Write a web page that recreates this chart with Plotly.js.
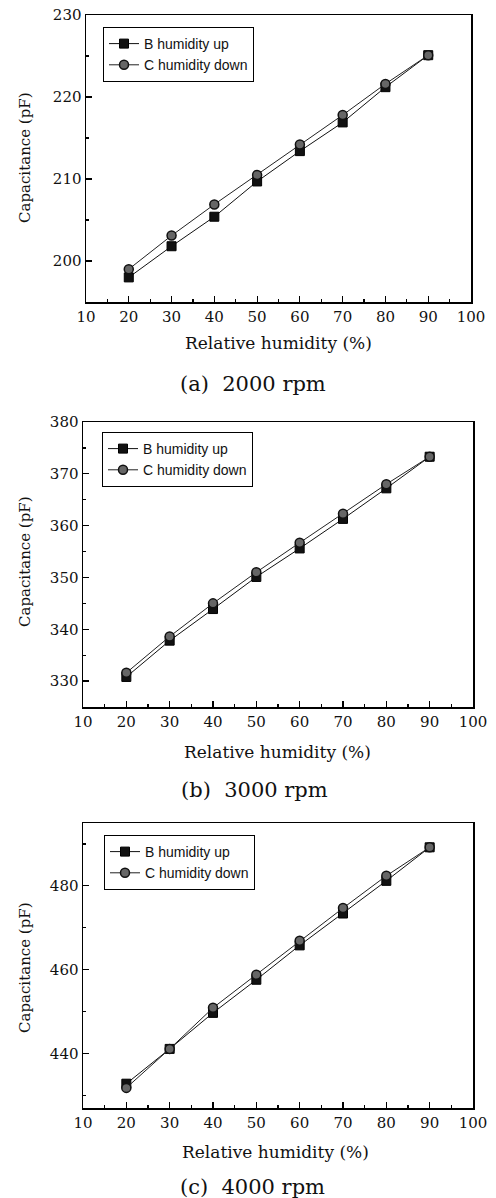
<!DOCTYPE html>
<html>
<head>
<meta charset="utf-8">
<script src="https://cdn.plot.ly/plotly-3.0.1.min.js"></script>
<style>html,body{margin:0;padding:0;background:#fff;}#chart{width:496px;height:1198px;}</style>
</head>
<body>
<div id="chart"></div>
<script>
const humidity = [20, 30, 40, 50, 60, 70, 80, 90];
const up2000 = [198.0, 201.8, 205.4, 209.7, 213.4, 216.9, 221.2, 225.1];
const down2000 = [199.0, 203.1, 206.9, 210.5, 214.2, 217.8, 221.6, 225.1];
const up3000 = [330.8, 337.8, 343.9, 350.1, 355.6, 361.3, 367.2, 373.3];
const down3000 = [331.6, 338.6, 345.0, 351.0, 356.7, 362.3, 368.0, 373.3];
const up4000 = [432.8, 441.1, 449.7, 457.6, 465.8, 473.4, 481.2, 489.2];
const down4000 = [431.8, 441.1, 450.9, 458.8, 466.9, 474.7, 482.4, 489.2];
const seriesNames = ["B humidity up", "C humidity down"];
const captions = ["(a)  2000 rpm", "(b)  3000 rpm", "(c)  4000 rpm"];
const xTitle = "Relative humidity (%)";
const yTitle = "Capacitance (pF)";

const H = 1198, W = 496;
const fy = p => 1 - p / H;
const fx = p => p / W;

function pair(up, down, k) {
  const xa = k === 1 ? 'x' : 'x' + k;
  const ya = k === 1 ? 'y' : 'y' + k;
  const lg = k === 1 ? 'legend' : 'legend' + k;
  return [
    {x: humidity, y: up, name: seriesNames[0], xaxis: xa, yaxis: ya, legend: lg,
     mode: 'lines+markers', line: {color: '#111', width: 1},
     marker: {symbol: 'square', size: 9, color: '#111', line: {color: '#000', width: 1}}},
    {x: humidity, y: down, name: seriesNames[1], xaxis: xa, yaxis: ya, legend: lg,
     mode: 'lines+markers', line: {color: '#222', width: 1},
     marker: {symbol: 'circle', size: 9, color: '#666', line: {color: '#111', width: 1.5}}}
  ];
}

const data = [].concat(pair(up2000, down2000, 1), pair(up3000, down3000, 2), pair(up4000, down4000, 3));

const tickFont = {family: 'DejaVu Serif', size: 15, color: '#111'};
function xax(dom, anchor) {
  return {domain: dom, anchor: anchor, range: [10, 100], dtick: 10, tick0: 10,
    ticks: 'inside', ticklen: 6, tickwidth: 1.2, tickcolor: '#000',
    minor: {dtick: 5, ticks: 'inside', ticklen: 3, tickcolor: '#000', showgrid: false},
    showline: true, linecolor: '#000', linewidth: 1.5, mirror: true, showgrid: false, zeroline: false,
    tickfont: tickFont, fixedrange: true};
}
function yax(dom, anchor, range, dtick, tick0, minor) {
  return {domain: dom, anchor: anchor, range: range, dtick: dtick, tick0: tick0,
    ticks: 'inside', ticklen: 6, tickwidth: 1.2, tickcolor: '#000',
    minor: {dtick: minor, ticks: 'inside', ticklen: 3, tickcolor: '#000', showgrid: false},
    showline: true, linecolor: '#000', linewidth: 1.5, mirror: true, showgrid: false, zeroline: false,
    tickfont: tickFont, fixedrange: true};
}
const legendBase = {xref: 'paper', yref: 'paper', xanchor: 'left', yanchor: 'top',
  bgcolor: '#fff', bordercolor: '#000', borderwidth: 1,
  font: {family: 'Liberation Sans, Arial', size: 14, color: '#111'},
  tracegroupgap: 0, itemwidth: 30};

const layout = {
  width: W, height: H, margin: {l: 0, r: 0, t: 0, b: 0},
  paper_bgcolor: '#fff', plot_bgcolor: '#fff', showlegend: true,
  xaxis: xax([fx(86), fx(471)], 'y'),
  yaxis: yax([fy(302), fy(15)], 'x', [195, 230], 10, 200, 5),
  xaxis2: xax([fx(83), fx(473)], 'y2'),
  yaxis2: yax([fy(707), fy(422)], 'x2', [325, 380], 10, 330, 5),
  xaxis3: xax([fx(83), fx(473)], 'y3'),
  yaxis3: yax([fy(1108), fy(823)], 'x3', [427, 495], 20, 440, 10),
  legend: Object.assign({}, legendBase, {x: fx(103), y: fy(27)}),
  legend2: Object.assign({}, legendBase, {x: fx(102), y: fy(432)}),
  legend3: Object.assign({}, legendBase, {x: fx(104), y: fy(835)}),
  annotations: []
};

const serif = 'DejaVu Serif';
const yTitleY = [158, 562, 968];
const xTitlePos = [[278, 343], [277, 752], [275, 1152]];
const capPos = [[253, 384], [254, 790], [252, 1187]];
for (let i = 0; i < 3; i++) {
  layout.annotations.push({text: yTitle, xref: 'paper', yref: 'paper', x: fx(25), y: fy(yTitleY[i]),
    xanchor: 'center', yanchor: 'middle',
    textangle: -90, showarrow: false, font: {family: serif, size: 15, color: '#111'}});
  layout.annotations.push({text: xTitle, xref: 'paper', yref: 'paper', x: fx(xTitlePos[i][0]), y: fy(xTitlePos[i][1]),
    xanchor: 'center', yanchor: 'middle',
    showarrow: false, font: {family: serif, size: 17, color: '#111'}});
  layout.annotations.push({text: captions[i], xref: 'paper', yref: 'paper', x: fx(capPos[i][0]), y: fy(capPos[i][1]),
    xanchor: 'center', yanchor: 'middle',
    showarrow: false, font: {family: serif, size: 21, color: '#111'}});
}

Plotly.newPlot('chart', data, layout, {displayModeBar: false, staticPlot: true});
</script>
</body>
</html>
